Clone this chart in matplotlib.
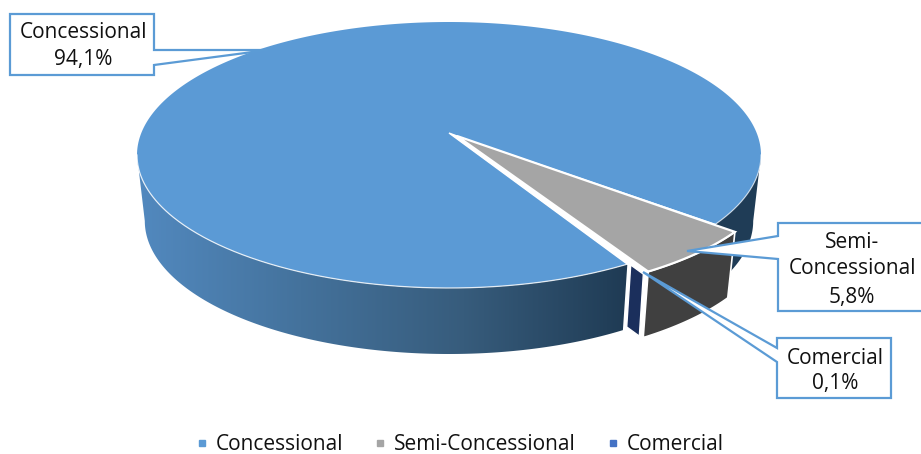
import numpy as np
import matplotlib
matplotlib.use("Agg")
import matplotlib.pyplot as plt
from matplotlib.colors import LinearSegmentedColormap
from matplotlib.lines import Line2D
from matplotlib.patches import Polygon

categories = ["Concessional", "Semi-Concessional", "Comercial"]
values = [94.1, 5.8, 0.1]
value_labels = ["94,1%", "5,8%", "0,1%"]
colors = ["#5b9ad5", "#a5a5a5", "#4472c4"]

plt.rcParams['font.family'] = ['Open Sans', 'DejaVu Sans']

# ellipse of the pie top, in pixels
CX, CY, RX, RY = 449, 155, 312, 133
DEPTH, SHRINK = 66, 0.975
APEX = np.array([449, 133])
C = (CY - APEX[1]) / RY  # perspective: pie centre sits above the ellipse centre
SEMI_SHIFT = np.array([19, 8])
SEMI_APEX = APEX + [8, 3]
COM_SHIFT = np.array([16, 10])
START = -39
RIGHT = -np.degrees(np.arcsin(C))
LEFT = 180 - RIGHT


def rim(a1, a2, shift=(0, 0), bottom=False):
    a = np.radians(np.linspace(a1, a2, 300))
    d = 1 + C * np.sin(a)
    x = RX * np.cos(a) * np.sqrt(1 - C ** 2) / d
    y = CY - RY * (np.sin(a) + C) / d + shift[1]
    if bottom:
        return np.column_stack([CX + (x + shift[0]) * SHRINK, y + DEPTH])
    return np.column_stack([CX + x + shift[0], y])


def side_poly(a1, a2, shift=(0, 0)):
    return np.vstack([rim(a1, a2, shift), rim(a2, a1, shift, True)])


def gradient(pts, stops):
    cmap = LinearSegmentedColormap.from_list("side", stops)
    im = ax.imshow(np.linspace(0, 1, 256)[None, :], cmap=cmap, aspect="auto",
                   extent=[pts[:, 0].min(), pts[:, 0].max(),
                           pts[:, 1].max(), pts[:, 1].min()], zorder=1)
    clip = Polygon(pts, transform=ax.transData, fc="none", ec="none")
    ax.add_patch(clip)
    im.set_clip_path(clip)


def callout(box, base, tip, lines, text_x, text_ys, right=False):
    x0, y0, x1, y1 = box
    if right:
        pts = [(x0, y0), (x1, y0), (x1, base[0]), tip, (x1, base[1]), (x1, y1), (x0, y1)]
    else:
        pts = [(x0, y0), (x1, y0), (x1, y1), (x0, y1), (x0, base[1]), tip, (x0, base[0])]
    ax.add_patch(Polygon(pts, fc="white", ec="#5b9bd5", lw=1.6, zorder=8,
                         joinstyle="miter"))
    for line, yy in zip(lines, text_ys):
        ax.text(text_x, yy, line, ha="center", va="center", fontsize=15,
                color="#111111", zorder=9)


fig = plt.figure(figsize=(9.21, 4.54), dpi=100)
ax = fig.add_axes([0, 0, 1, 1])

sweep = np.array(values) / sum(values) * 360
semi_end = START - sweep[1]
com_end = semi_end - sweep[2]
blue_end = START + sweep[0]

# side walls
front = side_poly(LEFT, blue_end)
gradient(front, ["#5289bf", "#44729c", "#375c7c", "#1f3b54"])
ax.add_patch(Polygon(side_poly(RIGHT, START), fc="#1f3c56", ec="none", zorder=1))

p = rim(com_end, com_end)[0] + COM_SHIFT
flank = p + 0.065 * (APEX - p)
navy = [flank, p, p + [-4, DEPTH - 4], flank + [-4, DEPTH - 4]]
ax.add_patch(Polygon(navy, fc="#1b2f5c", ec="white", lw=1.0, zorder=3))

gray_side = side_poly(START, semi_end, SEMI_SHIFT)
ax.add_patch(Polygon(gray_side, fc="#404040", ec="white", lw=1.2, zorder=4))

# top faces
blue_top = np.vstack([APEX, rim(START, blue_end)])
ax.add_patch(Polygon(blue_top, fc=colors[0], ec="none", zorder=2))
ax.plot(*rim(LEFT, blue_end).T, color="white", lw=0.9, alpha=0.8, zorder=2.2)
ax.plot(*rim(RIGHT, START).T, color="white", lw=0.9, alpha=0.6, zorder=2.2)

gray_rim = rim(START, semi_end, SEMI_SHIFT)
gap = np.vstack([APEX, rim(blue_end, blue_end), gray_rim[-1], SEMI_APEX])
ax.add_patch(Polygon(gap, fc="white", ec="white", lw=1, zorder=2.5))
gray_top = np.vstack([SEMI_APEX, gray_rim])
ax.add_patch(Polygon(gray_top, fc=colors[1], ec="white", lw=1.6, zorder=5,
                     joinstyle="miter"))

# callouts
callout((10, 14, 154, 75), (50, 65), (268, 50),
        [categories[0], value_labels[0]], 83, [33, 60], right=True)
callout((778, 223, 940, 311), (236, 259), (687, 251),
        ["Semi-", "Concessional", value_labels[1]], 852, [242, 269, 297])
callout((777, 338, 891, 398), (348, 362), (643, 272),
        [categories[2], value_labels[2]], 835, [358, 384])

handles = [Line2D([], [], ls="none", marker="s", ms=4.5, color=c) for c in colors]
ax.legend(handles, categories, loc="center", bbox_to_anchor=(461, 445),
          bbox_transform=ax.transData, ncol=3, frameon=False, fontsize=15,
          handlelength=0.35, handletextpad=0.5, columnspacing=1.6,
          labelcolor="#111111", borderpad=0, borderaxespad=0)

ax.set_xlim(0, 921)
ax.set_ylim(454, 0)
ax.axis("off")
fig.savefig("out.png", dpi=100)
